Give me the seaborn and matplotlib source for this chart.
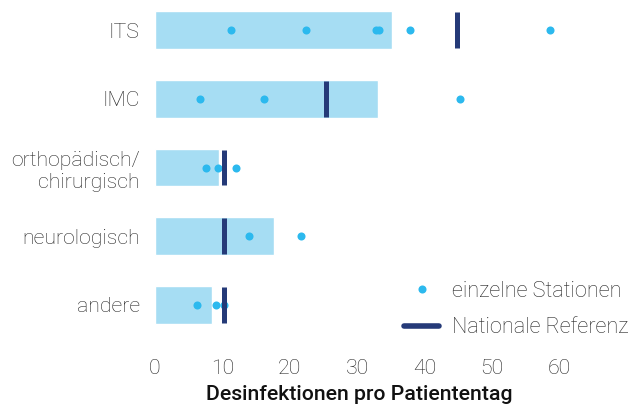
import numpy as np
import pandas as pd
import matplotlib
matplotlib.use("Agg")
import matplotlib.pyplot as plt
from matplotlib.lines import Line2D
import seaborn as sns

# Values
categories = ["ITS", "IMC", "orthopädisch/\nchirurgisch", "neurologisch", "andere"]
pooled = [35.1, 33.1, 9.5, 17.6, 8.4]
national_ref = [44.8, 25.3, 10.3, 10.3, 10.3]
station_values = [
    [11.2, 22.4, 32.8, 33.2, 37.8, 58.6],
    [6.6, 16.2, 45.3],
    [7.5, 9.4, 12.0],
    [14.0, 21.6],
    [6.2, 9.1, 10.3],
]
x_ticks = [0, 10, 20, 30, 40, 50, 60]

bar_color = "#a6ddf3"
dot_color = "#2cb9ee"
ref_color = "#253a78"
text_color = "#262626"
fs = 15.3

sns.set_theme(style="white")
plt.rcParams["font.family"] = ["Roboto", "DejaVu Sans"]
plt.rcParams["font.weight"] = "light"

bars = pd.DataFrame({"cat": categories, "value": pooled})
dots = pd.DataFrame(
    [(c, v) for c, vals in zip(categories, station_values) for v in vals],
    columns=["cat", "value"],
)

fig = plt.figure(figsize=(6.3, 4.07), dpi=100)
ax = fig.add_axes([155 / 630, 1 - 340 / 407, 408 / 630, 338 / 407])

sns.barplot(data=bars, x="value", y="cat", order=categories, color=bar_color,
            saturation=1, width=0.55, ax=ax)
sns.stripplot(data=dots, x="value", y="cat", order=categories, jitter=False,
              color=dot_color, size=5.8, linewidth=0, ax=ax, zorder=3)
ypos = np.arange(len(categories))
ax.vlines(national_ref, ypos - 0.26, ypos + 0.26, color=ref_color,
          linewidth=3.6, zorder=4)

ax.set_xlim(0, 60.5)
ax.set_ylim(4.51, -0.41)
ax.set_xticks(x_ticks)
ax.set_xticklabels([str(t) for t in x_ticks], fontsize=fs, color=text_color,
                   fontweight="light")
ax.set_yticks(ypos)
ax.set_yticklabels(categories, fontsize=fs, color=text_color,
                   fontweight="light", linespacing=1.2)
ax.tick_params(axis="x", length=0, pad=14)
ax.tick_params(axis="y", length=0, pad=11)
ax.set_ylabel("")
ax.set_xlabel("Desinfektionen pro Patiententag", fontsize=fs,
              fontweight="medium", color="#111111", labelpad=5)
sns.despine(ax=ax, left=True, bottom=True)

handles = [
    Line2D([0], [0], marker="o", linestyle="none", markersize=5.8,
           markerfacecolor=dot_color, markeredgewidth=0),
    Line2D([0], [0], color=ref_color, linewidth=4),
]
ax.legend(handles, ["einzelne Stationen", "Nationale Referenz"],
          loc="lower right", bbox_to_anchor=(1.198, -0.04), frameon=False,
          fontsize=15.6, handlelength=1.6, handletextpad=0.6,
          labelspacing=0.72, labelcolor=text_color, borderpad=0.2)

fig.savefig("out.png", dpi=100)
